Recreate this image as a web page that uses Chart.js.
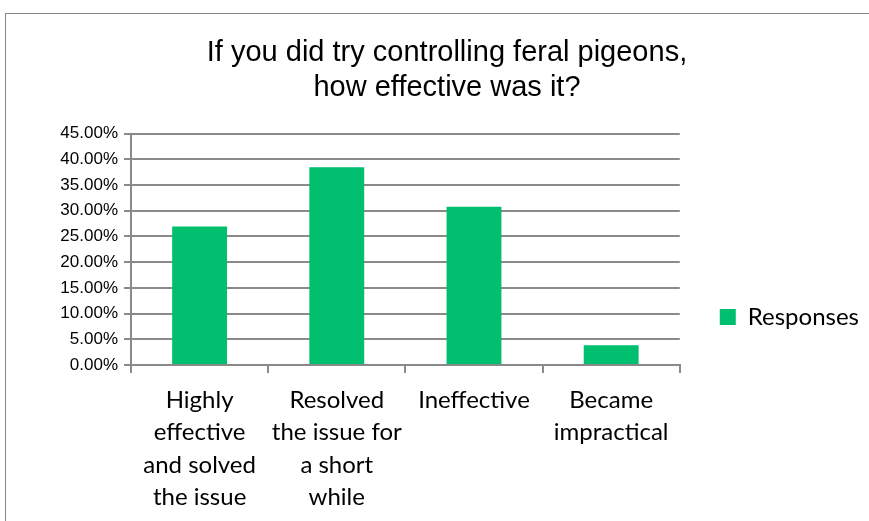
<!DOCTYPE html>
<html>
<head>
<meta charset="utf-8">
<script src="https://cdn.jsdelivr.net/npm/chart.js@4.4.1/dist/chart.umd.min.js"></script>
<style>
  html, body { margin: 0; padding: 0; width: 869px; height: 521px; overflow: hidden; background: #fff; }
  #frame { position: absolute; left: 5px; top: 13px; width: 900px; height: 700px;
           border-left: 1px solid #868686; border-top: 1px solid #868686; }
  #chart { position: absolute; left: 0; top: 0; }
</style>
</head>
<body>
<!-- el canvas es más alto que la ventana para que la leyenda quede centrada como en Excel -->
<div id="frame"><canvas id="chart" width="875" height="606"></canvas></div>
<script>
// --- Datos del gráfico ---
const titleLines = ['If you did try controlling feral pigeons,', 'how effective was it?'];
const categories = [
    ['Highly', 'effective', 'and solved', 'the issue'],
    ['Resolved', 'the issue for', 'a short', 'while'],
    ['Ineffective'],
    ['Became', 'impractical']
];
const seriesName = 'Responses';
const responses = [26.92, 38.46, 30.77, 3.85]; // porcentaje
const yTickLabels = ['0.00%', '5.00%', '10.00%', '15.00%', '20.00%', '25.00%', '30.00%', '35.00%', '40.00%', '45.00%'];

const axisGray = '#8a8a8a';
const barGreen = '#00bf6f';
const labelFont = { family: 'Lato', size: 24, lineHeight: 1.35 };

const ctx = document.getElementById('chart').getContext('2d');

new Chart(ctx, {
    type: 'bar',
    data: {
        labels: categories,
        datasets: [{
            label: seriesName,
            data: responses,
            backgroundColor: barGreen,
            borderWidth: 0,
            barPercentage: 0.4,
            categoryPercentage: 1.0
        }]
    },
    options: {
        responsive: false,
        animation: false,
        layout: { padding: { left: 19, right: 12, top: 0, bottom: 0 } },
        plugins: {
            tooltip: { enabled: false },
            title: {
                display: true,
                text: titleLines,
                color: '#000',
                font: { family: 'Liberation Sans', size: 29, weight: 'normal', lineHeight: 1.2 },
                padding: { top: 22, bottom: 28 }
            },
            legend: {
                position: 'right',
                align: 'center',
                labels: {
                    boxWidth: 16,
                    boxHeight: 16,
                    padding: 40,
                    color: '#000',
                    font: labelFont
                }
            }
        },
        scales: {
            x: {
                grid: { drawOnChartArea: false, drawTicks: true, tickLength: 8, color: axisGray, lineWidth: 2, offset: true },
                border: { color: axisGray, width: 2 },
                ticks: { color: '#000', font: labelFont, padding: 11, maxRotation: 0, autoSkip: false },
                afterFit: (s) => { s.height = 255; }
            },
            y: {
                min: 0,
                max: 45,
                grid: { color: axisGray, lineWidth: 2, tickLength: 7 },
                border: { color: axisGray, width: 2 },
                ticks: {
                    stepSize: 5,
                    color: '#000',
                    padding: 6,
                    font: { family: 'Liberation Sans', size: 17 },
                    callback: (v, i) => yTickLabels[i]
                },
                afterFit: (s) => { s.width = 106; }
            }
        }
    }
});
</script>
</body>
</html>
